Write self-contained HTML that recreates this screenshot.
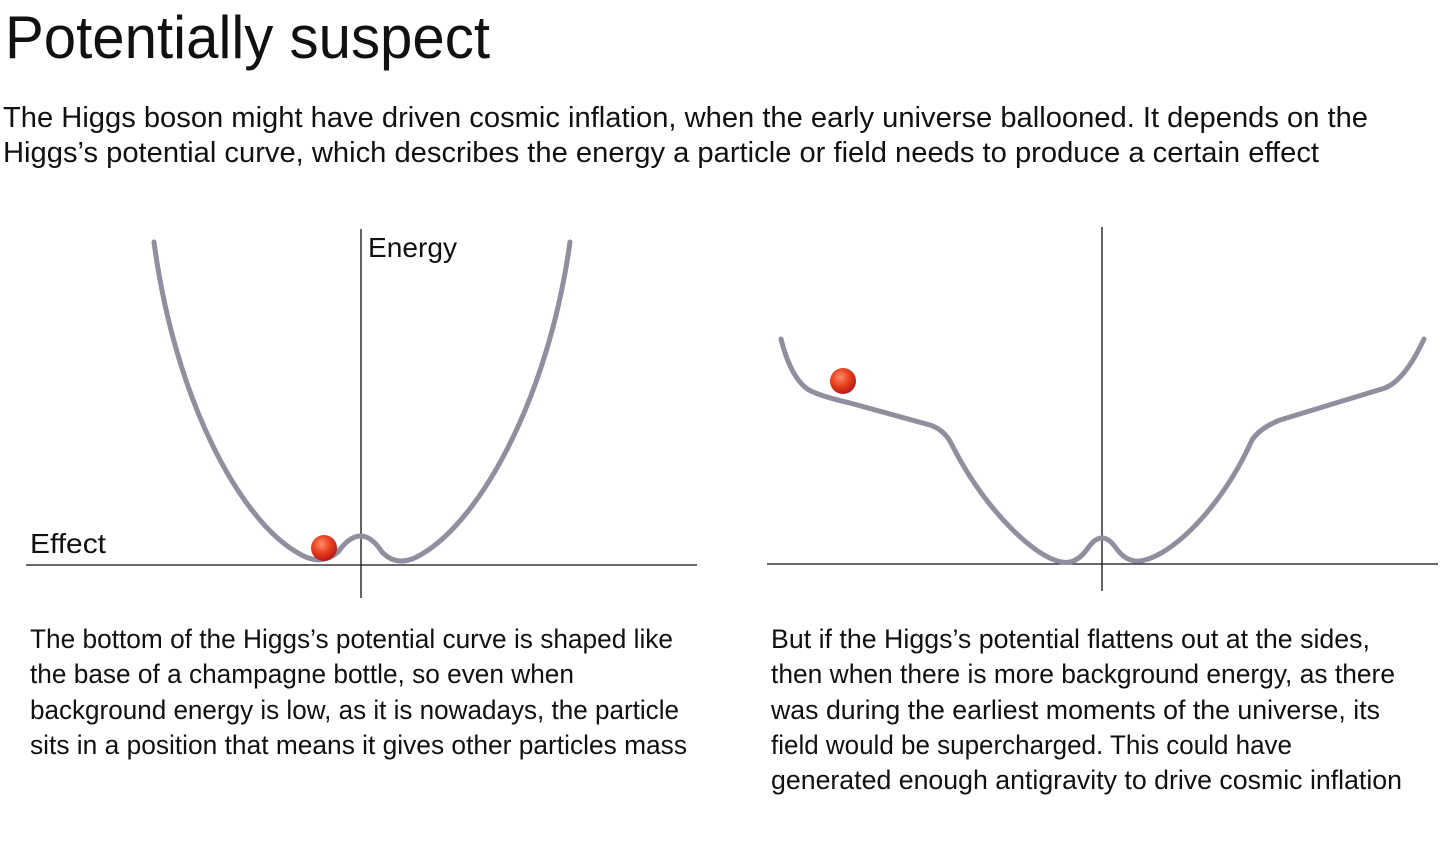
<!DOCTYPE html>
<html><head><meta charset="utf-8"><style>
html,body{margin:0;padding:0;background:#fff;}
svg{display:block;font-family:"Liberation Sans",sans-serif;}
</style></head><body>
<svg width="1441" height="847" viewBox="0 0 1441 847" xmlns="http://www.w3.org/2000/svg">
<defs>
<radialGradient id="ball" cx="0.4" cy="0.35" r="0.7">
<stop offset="0" stop-color="#ff8a6a"/>
<stop offset="0.5" stop-color="#e8401c"/>
<stop offset="1" stop-color="#b3141a"/>
</radialGradient>
</defs>
<g fill="#111">
<text x="5" y="58" font-size="60" font-weight="300" textLength="485" lengthAdjust="spacingAndGlyphs">Potentially suspect</text>
<text x="3" y="127" font-size="29" textLength="1365" lengthAdjust="spacingAndGlyphs">The Higgs boson might have driven cosmic inflation, when the early universe ballooned. It depends on the</text>
<text x="3" y="162" font-size="29" textLength="1316" lengthAdjust="spacingAndGlyphs">Higgs’s potential curve, which describes the energy a particle or field needs to produce a certain effect</text>
<text x="368" y="257" font-size="28" textLength="89" lengthAdjust="spacingAndGlyphs">Energy</text>
<text x="30" y="553" font-size="28" textLength="76" lengthAdjust="spacingAndGlyphs">Effect</text>
<g font-size="27">
<text x="30" y="648" textLength="643" lengthAdjust="spacingAndGlyphs">The bottom of the Higgs’s potential curve is shaped like</text>
<text x="30" y="683" textLength="544" lengthAdjust="spacingAndGlyphs">the base of a champagne bottle, so even when</text>
<text x="30" y="719" textLength="649" lengthAdjust="spacingAndGlyphs">background energy is low, as it is nowadays, the particle</text>
<text x="30" y="754" textLength="657" lengthAdjust="spacingAndGlyphs">sits in a position that means it gives other particles mass</text>
<text x="771" y="648" textLength="599" lengthAdjust="spacingAndGlyphs">But if the Higgs’s potential flattens out at the sides,</text>
<text x="771" y="683" textLength="624" lengthAdjust="spacingAndGlyphs">then when there is more background energy, as there</text>
<text x="771" y="719" textLength="609" lengthAdjust="spacingAndGlyphs">was during the earliest moments of the universe, its</text>
<text x="771" y="754" textLength="521" lengthAdjust="spacingAndGlyphs">field would be supercharged. This could have</text>
<text x="771" y="789" textLength="631" lengthAdjust="spacingAndGlyphs">generated enough antigravity to drive cosmic inflation</text>
</g>
</g>
<g stroke="#111" stroke-width="1.3">
<line x1="26" y1="565" x2="697" y2="565"/>
<line x1="361" y1="229" x2="361" y2="598"/>
<line x1="767" y1="564" x2="1438" y2="564"/>
<line x1="1102" y1="227" x2="1102" y2="591"/>
</g>
<g fill="none" stroke="#8f8f9f" stroke-width="5" stroke-linecap="round" stroke-linejoin="round">
<path d="M154,242 C175,400 240,520 298,553 Q320,567 338,552 Q361,520 382,552 Q398,569 422,554 C480,520 548,400 570,242"/>
<path d="M781,339 Q790,375 806,388 Q815,395 850,403 L930,425 Q945,430 952,445 C985,510 1035,558 1062,562 Q1076,565 1088,548 Q1102,528 1116,548 Q1128,565 1145,560 C1180,550 1225,500 1252,440 Q1260,428 1280,420 L1385,388 Q1405,380 1424,339"/>
</g>
<circle cx="324" cy="548" r="13" fill="url(#ball)"/>
<circle cx="843" cy="381" r="13" fill="url(#ball)"/>
</svg>
</body></html>
